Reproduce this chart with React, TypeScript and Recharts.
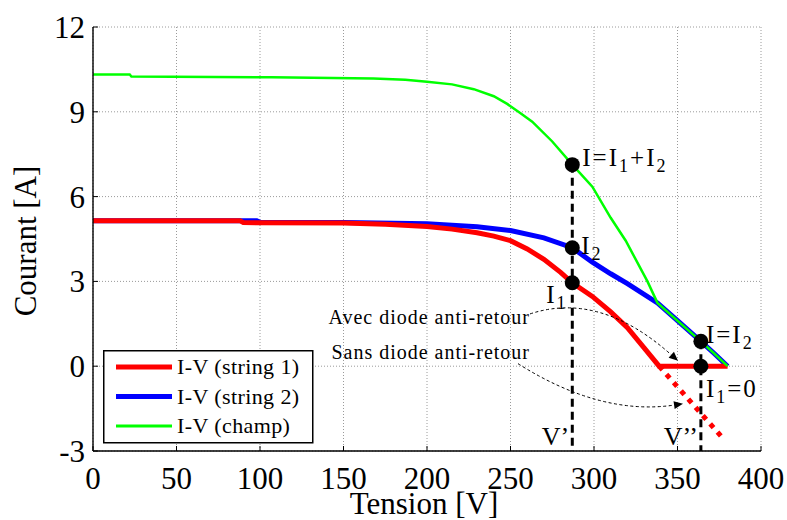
import React from 'react';
import {
  CartesianGrid,
  Legend,
  Line,
  LineChart,
  ReferenceDot,
  ReferenceLine,
  XAxis,
  YAxis,
} from 'recharts';

const FONT = "Liberation Serif, DejaVu Serif, serif";

const xTicks = [0, 50, 100, 150, 200, 250, 300, 350, 400];
const yTicks = [-3, 0, 3, 6, 9, 12];

// I-V string 1
const string1V = [0, 88, 90, 150, 175, 200, 215, 230, 240, 250, 260, 270, 280, 287, 299, 310, 320, 330, 339, 380];
const string1I = [5.15, 5.15, 5.08, 5.07, 5.02, 4.94, 4.85, 4.72, 4.6, 4.44, 4.15, 3.78, 3.32, 2.95, 2.47, 1.92, 1.36, 0.65, 0, 0];

// string 1 sans diode anti-retour
const noDiodeV = [339, 378];
const noDiodeI = [0, -2.6];

// I-V string 2
const string2V = [0, 98, 100, 150, 200, 230, 250, 270, 287, 299, 310, 320, 338, 350, 364, 372, 380];
const string2I = [5.15, 5.15, 5.09, 5.08, 5.04, 4.93, 4.8, 4.54, 4.19, 3.68, 3.27, 2.92, 2.24, 1.61, 0.88, 0.45, 0];

// I-V champ
const fieldV = [0, 22, 23, 107, 168, 187, 200, 215, 228, 240, 248, 256, 263, 275, 287, 299, 310, 319, 332, 338, 350, 364, 372, 380];
const fieldI = [10.32, 10.32, 10.25, 10.22, 10.18, 10.13, 10.06, 9.97, 9.8, 9.55, 9.28, 8.95, 8.65, 7.95, 7.13, 6.35, 5.25, 4.44, 3.0, 2.24, 1.61, 0.88, 0.45, 0];

// points marqués
const markerV = [287, 287, 287, 364, 364];
const markerI = [7.13, 4.19, 2.95, 0.88, 0];
const markerLabels = ['I=I_1+I_2', 'I_2', 'I_1', 'I=I_2', 'I_1=0'];

// lignes verticales V' et V''
const cutV = [287, 364];
const cutTopI = [7.13, 0.88];
const cutLabels = ['V’', 'V’’'];

// flèches
const arrowFromV = [261.7, 254.5];
const arrowFromI = [1.85, 0.09];
const arrowToV = [350.3, 353.3];
const arrowToI = [0.19, -1.33];
const arrowLabels = ['Avec diode anti-retour', 'Sans diode anti-retour'];

const legendNames = ['I-V (string 1)', 'I-V (string 2)', 'I-V (champ)'];
const legendColors = ['#ff0000', '#0000ff', '#00ff00'];

const zip = (vs: number[], is: number[]) => vs.map((v, k) => ({ v, i: is[k] }));

const string1Data = zip(string1V, string1I);
const noDiodeData = zip(noDiodeV, noDiodeI);
const string2Data = zip(string2V, string2I);
const fieldData = zip(fieldV, fieldI);

// label offsets (px) relative to each marker
const labelOffsets = [
  [10, 1],
  [9, 6],
  [-26, 20],
  [5, 2],
  [5, 31],
];
const arrowCtrl = [
  [0.47, -0.49],
  [0.5, 1.3],
];
const arrowTextOffsets = [
  [0, 10],
  [12, -5],
];

function mathText(s: string, size: number) {
  const parts = s.split(/(_\d)/).filter(Boolean);
  const shift = size * 0.24;
  let inSub = false;
  return parts.map((p, k) => {
    if (p.startsWith('_')) {
      inSub = true;
      return (
        <tspan key={k} fontSize={size * 0.72} dy={shift}>
          {p[1]}
        </tspan>
      );
    }
    const dy = inSub ? -shift : 0;
    inSub = false;
    return (
      <tspan key={k} dy={dy}>
        {p}
      </tspan>
    );
  });
}

function LegendBox() {
  return (
    <svg width={211} height={94} style={{ display: 'block' }}>
      <rect x={0.75} y={0.75} width={209} height={92} fill="#fff" stroke="#000" strokeWidth={1.5} />
      {legendNames.map((name, k) => (
        <g key={name}>
          <line
            x1={13}
            x2={69}
            y1={17 + k * 29.5}
            y2={17 + k * 29.5}
            stroke={legendColors[k]}
            strokeWidth={k === 2 ? 3 : 5}
          />
          <text
            x={74}
            y={17 + k * 29.5 + 7}
            fontFamily={FONT}
            fontSize={22}
            letterSpacing={0.4}
            fill="#000"
          >
            {name}
          </text>
        </g>
      ))}
    </svg>
  );
}

export default function App() {
  return (
    <div style={{ position: 'absolute', left: 0, top: 0, background: '#fff', fontFamily: FONT }}>
      <LineChart width={787} height={520} margin={{ top: 27, right: 26, bottom: 0, left: 0 }}>
        <CartesianGrid stroke="#9a9a9a" strokeDasharray="1 2" />
        <XAxis
          dataKey="v"
          type="number"
          domain={[0, 400]}
          ticks={xTicks}
          height={69}
          tickSize={-5}
          tickMargin={21}
          tick={{ fontSize: 31, fontFamily: FONT, fill: '#000' }}
          axisLine={{ stroke: '#000', strokeWidth: 1.4 }}
          tickLine={{ stroke: '#000' }}
          label={{
            content: ({ viewBox }: any) => (
              <text
                x={viewBox.x + viewBox.width / 2 - 3}
                y={viewBox.y + 63}
                textAnchor="middle"
                fontFamily={FONT}
                fontSize={31}
                fill="#000"
              >
                Tension [V]
              </text>
            ),
          }}
        />
        <XAxis
          xAxisId="top"
          orientation="top"
          type="number"
          domain={[0, 400]}
          ticks={xTicks}
          height={0}
          tick={false}
          tickSize={-5}
          axisLine={{ stroke: '#000', strokeWidth: 1.4 }}
          tickLine={{ stroke: '#000' }}
        />
        <YAxis
          type="number"
          domain={[-3, 12]}
          ticks={yTicks}
          width={93}
          tickSize={-5}
          tickMargin={13}
          tick={{ fontSize: 31, fontFamily: FONT, fill: '#000' }}
          axisLine={{ stroke: '#000', strokeWidth: 1.4 }}
          tickLine={{ stroke: '#000' }}
          label={{
            content: ({ viewBox }: any) => {
              const x = viewBox.x + 36;
              const y = viewBox.y + viewBox.height / 2 + 2;
              return (
                <text
                  x={x}
                  y={y}
                  transform={`rotate(-90 ${x} ${y})`}
                  textAnchor="middle"
                  fontFamily={FONT}
                  fontSize={31}
                  fill="#000"
                >
                  Courant [A]
                </text>
              );
            },
          }}
        />
        <YAxis
          yAxisId="right"
          orientation="right"
          type="number"
          domain={[-3, 12]}
          ticks={yTicks}
          width={0}
          tick={false}
          tickSize={-5}
          axisLine={{ stroke: '#000', strokeWidth: 1.4 }}
          tickLine={{ stroke: '#000' }}
        />
        <Legend
          layout="horizontal"
          verticalAlign="middle"
          align="center"
          wrapperStyle={{ left: 103, top: 350, width: 211, height: 94 }}
          content={() => <LegendBox />}
        />

        <Line
          data={string2Data}
          dataKey="i"
          name="I-V (string 2)"
          stroke="#0000ff"
          strokeWidth={5}
          dot={false}
          type="linear"
          isAnimationActive={false}
        />
        <Line
          data={string1Data}
          dataKey="i"
          name="I-V (string 1)"
          stroke="#ff0000"
          strokeWidth={5}
          dot={false}
          type="linear"
          isAnimationActive={false}
        />
        <Line
          data={noDiodeData}
          dataKey="i"
          name="sans diode"
          legendType="none"
          stroke="#ff0000"
          strokeWidth={5}
          strokeDasharray="5 6"
          dot={false}
          type="linear"
          isAnimationActive={false}
        />
        <Line
          data={fieldData}
          dataKey="i"
          name="I-V (champ)"
          stroke="#00ff00"
          strokeWidth={2.5}
          dot={false}
          type="linear"
          isAnimationActive={false}
        />

        {cutV.map((v, k) => (
          <ReferenceLine
            key={`cut${k}`}
            segment={[
              { x: v, y: cutTopI[k] },
              { x: v, y: -3 },
            ]}
            shape={(p: any) => (
              <g>
                <line
                  x1={p.x1}
                  y1={p.y1}
                  x2={p.x2}
                  y2={p.y2}
                  stroke="#000"
                  strokeWidth={3}
                  strokeDasharray="8 5"
                />
                <text
                  x={Math.max(p.x1, p.x2) - 3}
                  y={Math.max(p.y1, p.y2) - 6}
                  textAnchor="end"
                  fontFamily={FONT}
                  fontSize={26}
                  fill="#000"
                >
                  {cutLabels[k]}
                </text>
              </g>
            )}
          />
        ))}

        {arrowFromV.map((v, k) => (
          <ReferenceLine
            key={`arrow${k}`}
            segment={[
              { x: v, y: arrowFromI[k] },
              { x: arrowToV[k], y: arrowToI[k] },
            ]}
            shape={(p: any) => {
              const { x1, y1, x2, y2 } = p;
              const cx = x1 + arrowCtrl[k][0] * (x2 - x1);
              const cy = y1 + arrowCtrl[k][1] * (y2 - y1);
              const len = Math.hypot(x2 - cx, y2 - cy);
              const ux = (x2 - cx) / len;
              const uy = (y2 - cy) / len;
              const bx = x2 - ux * 9;
              const by = y2 - uy * 9;
              const head = `${x2},${y2} ${bx - uy * 4},${by + ux * 4} ${bx + uy * 4},${by - ux * 4}`;
              return (
                <g>
                  <path
                    d={`M${x1},${y1} Q${cx},${cy} ${bx},${by}`}
                    fill="none"
                    stroke="#000"
                    strokeWidth={1}
                    strokeDasharray="3 2.5"
                  />
                  <polygon points={head} fill="#000" />
                  <text
                    x={x1 + arrowTextOffsets[k][0]}
                    y={y1 + arrowTextOffsets[k][1]}
                    textAnchor="end"
                    fontFamily={FONT}
                    fontSize={20}
                    letterSpacing={1}
                    fill="#000"
                  >
                    {arrowLabels[k]}
                  </text>
                </g>
              );
            }}
          />
        ))}

        {markerV.map((v, k) => (
          <ReferenceDot
            key={`m${k}`}
            x={v}
            y={markerI[k]}
            r={7.5}
            shape={(p: any) => (
              <g>
                <circle cx={p.cx} cy={p.cy} r={7.5} fill="#000" />
                <text
                  x={p.cx + labelOffsets[k][0]}
                  y={p.cy + labelOffsets[k][1]}
                  fontFamily={FONT}
                  fontSize={25}
                  letterSpacing={2}
                  fill="#000"
                >
                  {mathText(markerLabels[k], 25)}
                </text>
              </g>
            )}
          />
        ))}
      </LineChart>
    </div>
  );
}
